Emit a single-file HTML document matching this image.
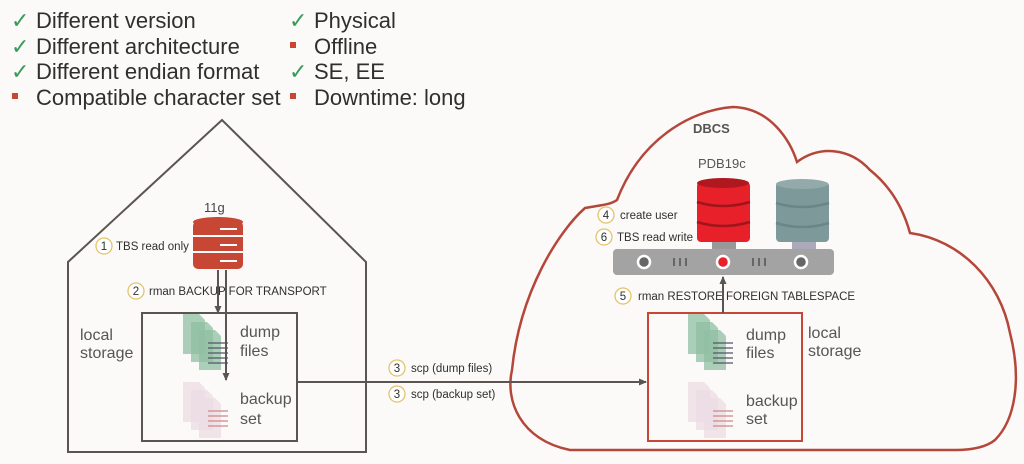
<!DOCTYPE html>
<html><head><meta charset="utf-8"><style>
body{margin:0;background:#fbfaf8;}
svg{display:block;font-family:"Liberation Sans",sans-serif;}
.big{font-size:22px;fill:#2f2f2f;}
.sm{font-size:11.5px;fill:#2f2f2f;}
.lbl{font-size:16px;fill:#555;}
</style></head><body>
<svg width="1024" height="464" viewBox="0 0 1024 464">
<defs>
<marker id="ar" markerWidth="8" markerHeight="8" refX="7" refY="4" orient="auto" markerUnits="userSpaceOnUse"><path d="M0,0.5 L8,4 L0,7.5z" fill="#5a5550"/></marker>
<g id="doc">
<path d="M0,0 h16 l6,6 v34 h-22z" fill="currentColor" opacity="0.75"/>
</g>
</defs>
<g class="big">
<text x="11" y="28" style="fill:#3a9a5a">✓</text><text x="36" y="28">Different version</text>
<text x="11" y="54" style="fill:#3a9a5a">✓</text><text x="36" y="54">Different architecture</text>
<text x="11" y="79" style="fill:#3a9a5a">✓</text><text x="36" y="79">Different endian format</text>
<rect x="12" y="93" width="6" height="6" fill="#c74634"/><text x="36" y="105">Compatible character set</text>
<text x="289" y="28" style="fill:#3a9a5a">✓</text><text x="314" y="28">Physical</text>
<rect x="290" y="42" width="6" height="6" fill="#c74634"/><text x="314" y="54">Offline</text>
<text x="289" y="79" style="fill:#3a9a5a">✓</text><text x="314" y="79">SE, EE</text>
<rect x="290" y="93" width="6" height="6" fill="#c74634"/><text x="314" y="105">Downtime: long</text>
</g>
<path d="M68,452 V262 L222,120 L366,262 V452 Z" fill="none" stroke="#5a5550" stroke-width="2"/>
<rect x="142" y="313" width="155" height="128" fill="none" stroke="#5a5550" stroke-width="2"/>
<path d="M570,450 C520,440 505,400 512,370 C520,290 560,230 585,208 C600,205 610,205 617,200 C640,140 690,110 733,107 C770,108 790,140 797,162 C820,145 850,148 870,170 C895,190 905,215 910,233 C960,240 1000,280 1010,333 C1022,380 1015,420 995,440 C985,448 970,450 955,450 Z" fill="none" stroke="#b5473a" stroke-width="2.5"/>
<rect x="648" y="313" width="154" height="128" fill="none" stroke="#c74634" stroke-width="2"/>
<text x="693" y="133" style="font-size:13px;font-weight:bold;fill:#555">DBCS</text>
<text x="204" y="212" style="font-size:13px;fill:#444">11g</text>
<rect x="193" y="221" width="50" height="48" rx="5" fill="#c74634"/>
<ellipse cx="218" cy="222" rx="25" ry="5" fill="#c74634"/>
<g stroke="#fff" stroke-width="2"><line x1="193" y1="236" x2="243" y2="236"/><line x1="193" y1="252" x2="243" y2="252"/><line x1="220" y1="229" x2="237" y2="229"/><line x1="220" y1="245" x2="237" y2="245"/><line x1="220" y1="261" x2="237" y2="261"/></g>
<line x1="218" y1="270" x2="218" y2="313" stroke="#5a5550" stroke-width="2" marker-end="url(#ar)"/>
<line x1="226" y1="270" x2="226" y2="380" stroke="#5a5550" stroke-width="2" marker-end="url(#ar)"/>
<g color="#8fbfa3"><use href="#doc" x="183" y="314"/><use href="#doc" x="191" y="322"/><use href="#doc" x="199" y="330"/></g>
<g stroke="#556" stroke-width="1.2"><line x1="208" y1="343" x2="228" y2="343"/><line x1="208" y1="348" x2="228" y2="348"/><line x1="208" y1="353" x2="228" y2="353"/><line x1="208" y1="358" x2="228" y2="358"/><line x1="208" y1="363" x2="228" y2="363"/></g>
<g color="#ecdce4"><use href="#doc" x="183" y="382"/><use href="#doc" x="191" y="390"/><use href="#doc" x="199" y="398"/></g>
<g stroke="#c88" stroke-width="1.2"><line x1="208" y1="411" x2="228" y2="411"/><line x1="208" y1="416" x2="228" y2="416"/><line x1="208" y1="421" x2="228" y2="421"/><line x1="208" y1="426" x2="228" y2="426"/></g>
<text x="240" y="337" class="lbl">dump</text><text x="240" y="356" class="lbl">files</text>
<text x="240" y="404" class="lbl">backup</text><text x="240" y="424" class="lbl">set</text>
<text x="80" y="340" class="lbl">local</text><text x="80" y="358" class="lbl">storage</text>
<g color="#8fbfa3"><use href="#doc" x="688" y="314"/><use href="#doc" x="696" y="322"/><use href="#doc" x="704" y="330"/></g>
<g stroke="#556" stroke-width="1.2"><line x1="713" y1="343" x2="733" y2="343"/><line x1="713" y1="348" x2="733" y2="348"/><line x1="713" y1="353" x2="733" y2="353"/><line x1="713" y1="358" x2="733" y2="358"/><line x1="713" y1="363" x2="733" y2="363"/></g>
<g color="#ecdce4"><use href="#doc" x="688" y="382"/><use href="#doc" x="696" y="390"/><use href="#doc" x="704" y="398"/></g>
<g stroke="#c88" stroke-width="1.2"><line x1="713" y1="411" x2="733" y2="411"/><line x1="713" y1="416" x2="733" y2="416"/><line x1="713" y1="421" x2="733" y2="421"/><line x1="713" y1="426" x2="733" y2="426"/></g>
<text x="746" y="340" class="lbl">dump</text><text x="746" y="358" class="lbl">files</text>
<text x="746" y="406" class="lbl">backup</text><text x="746" y="424" class="lbl">set</text>
<text x="808" y="338" class="lbl">local</text><text x="808" y="356" class="lbl">storage</text>
<line x1="297" y1="382" x2="646" y2="382" stroke="#5a5550" stroke-width="2" marker-end="url(#ar)"/>
<g fill="#fff" stroke="#e3c36a" stroke-width="1.3">
<circle cx="104" cy="246" r="8"/><circle cx="136" cy="291" r="8"/>
<circle cx="397" cy="368" r="8"/><circle cx="397" cy="394" r="8"/>
<circle cx="606" cy="215" r="8"/><circle cx="604" cy="237" r="8"/><circle cx="623" cy="296" r="8"/>
</g>
<g class="sm" text-anchor="middle">
<text x="104" y="250">1</text><text x="136" y="295">2</text><text x="397" y="372">3</text><text x="397" y="398">3</text>
<text x="606" y="219">4</text><text x="604" y="241">6</text><text x="623" y="300">5</text>
</g>
<g class="sm">
<text x="116" y="250">TBS read only</text>
<text x="149" y="295">rman BACKUP FOR TRANSPORT</text>
<text x="411" y="372">scp (dump files)</text>
<text x="411" y="398">scp (backup set)</text>
<text x="620" y="219">create user</text>
<text x="617" y="241">TBS read write</text>
<text x="638" y="300">rman RESTORE FOREIGN TABLESPACE</text>
</g>
<text x="698" y="168" style="font-size:13px;fill:#555">PDB19c</text>
<rect x="712" y="240" width="24" height="10" fill="#999"/>
<rect x="792" y="240" width="24" height="10" fill="#aab"/>
<rect x="697" y="182" width="53" height="60" rx="4" fill="#e8202a"/>
<ellipse cx="723" cy="183" rx="26" ry="5" fill="#b01820"/>
<g stroke="#a0151c" stroke-width="2.5" fill="none"><path d="M697,202 q26,8 53,0"/><path d="M697,222 q26,8 53,0"/></g>
<rect x="776" y="182" width="53" height="60" rx="4" fill="#7e9999"/>
<ellipse cx="802" cy="184" rx="26" ry="5" fill="#93aaaa"/>
<g stroke="#6a8686" stroke-width="2.5" fill="none"><path d="M776,203 q26,8 53,0"/><path d="M776,223 q26,8 53,0"/></g>
<rect x="613" y="249" width="221" height="26" rx="4" fill="#a3a3a3"/>
<g stroke="#fff" stroke-width="2.5"><circle cx="644" cy="262" r="6" fill="#666"/><circle cx="723" cy="262" r="6" fill="#e8202a"/><circle cx="801" cy="262" r="6" fill="#666"/></g>
<g stroke="#666" stroke-width="2"><line x1="674" y1="258" x2="674" y2="266"/><line x1="680" y1="258" x2="680" y2="266"/><line x1="686" y1="258" x2="686" y2="266"/><line x1="753" y1="258" x2="753" y2="266"/><line x1="759" y1="258" x2="759" y2="266"/><line x1="765" y1="258" x2="765" y2="266"/></g>
<line x1="723" y1="313" x2="723" y2="277" stroke="#5a5550" stroke-width="2" marker-end="url(#ar)"/>
</svg>
</body></html>
